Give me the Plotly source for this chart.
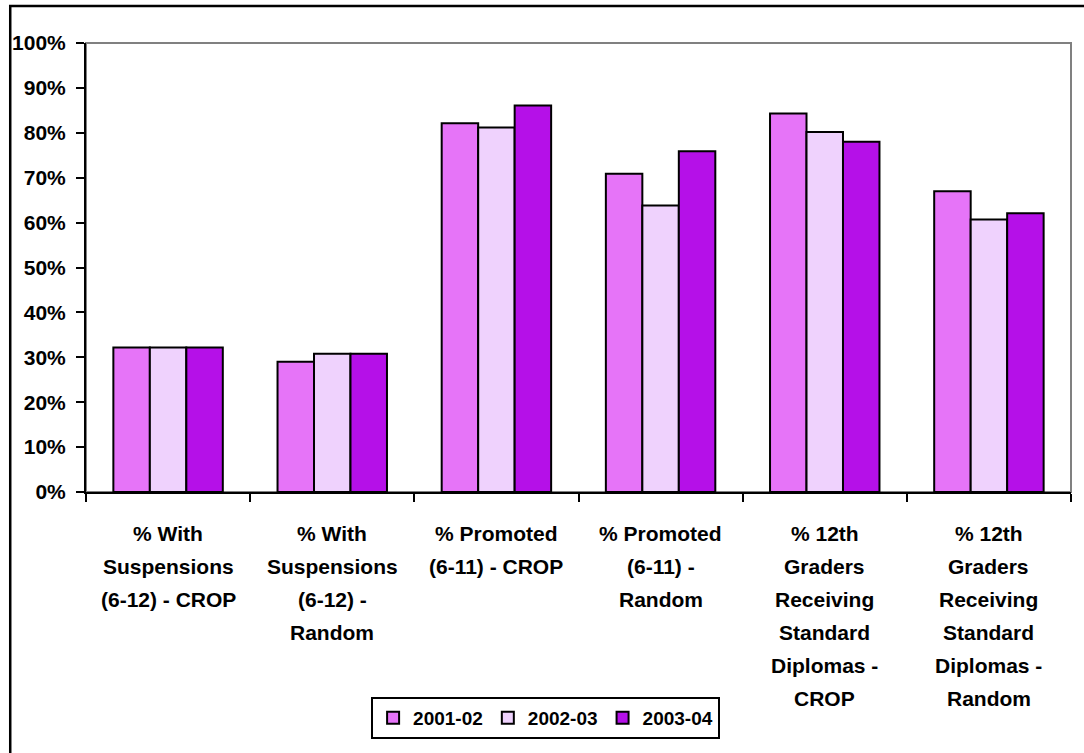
import plotly.graph_objects as go

# Outcome categories (x axis) and the lines each label wraps onto
categories = [
    "% With Suspensions (6-12) - CROP",
    "% With Suspensions (6-12) - Random",
    "% Promoted (6-11) - CROP",
    "% Promoted (6-11) - Random",
    "% 12th Graders Receiving Standard Diplomas - CROP",
    "% 12th Graders Receiving Standard Diplomas - Random",
]
label_lines = [
    ["% With", "Suspensions", "(6-12) - CROP"],
    ["% With", "Suspensions", "(6-12) -", "Random"],
    ["% Promoted", "(6-11) - CROP"],
    ["% Promoted", "(6-11) -", "Random"],
    ["% 12th", "Graders", "Receiving", "Standard", "Diplomas -", "CROP"],
    ["% 12th", "Graders", "Receiving", "Standard", "Diplomas -", "Random"],
]

# School-year series, percent values
years = ["2001-02", "2002-03", "2003-04"]
pct_2001_02 = [32.2, 29.0, 82.1, 70.9, 84.3, 67.0]
pct_2002_03 = [32.2, 30.8, 81.2, 63.8, 80.2, 60.7]
pct_2003_04 = [32.2, 30.8, 86.1, 75.9, 78.0, 62.1]
series_values = [pct_2001_02, pct_2002_03, pct_2003_04]
series_colors = ["#E674F8", "#EFD2FD", "#B510E8"]

y_ticks = list(range(0, 101, 10))

FONT = "Arial, Liberation Sans, sans-serif"
W, H = 1084, 753
M_L, M_R, M_T, M_B = 83, 13, 43, 261
PLOT_H = H - M_T - M_B


def paper_y(px):
    """Convert a page pixel row into paper y coordinate."""
    return (H - M_B - px) / PLOT_H


def paper_x(px):
    return (px - M_L) / (W - M_L - M_R)


fig = go.Figure()
for name, vals, col in zip(years, series_values, series_colors):
    fig.add_trace(go.Bar(
        x=categories, y=vals, name=name,
        marker=dict(color=col, line=dict(color="black", width=2)),
    ))

# multi-line category labels with wide line spacing
annotations = []
first_line_px = 533
line_step = 33.1
for cat, lines in zip(categories, label_lines):
    for j, txt in enumerate(lines):
        annotations.append(dict(
            x=cat, xref="x", y=paper_y(first_line_px + j * line_step), yref="paper",
            text=f"<b>{txt}</b>", showarrow=False, xanchor="center", yanchor="middle",
            font=dict(family=FONT, size=21, color="black"),
        ))

shapes = [
    # grey plot-area border (top and right remain visible)
    dict(type="rect", xref="x domain", yref="y domain", x0=0, x1=1, y0=0, y1=1,
         line=dict(color="#808080", width=2), layer="below"),
    # outer chart frame
    dict(type="rect", xref="paper", yref="paper",
         x0=paper_x(7), x1=paper_x(1100), y0=paper_y(770), y1=paper_y(6),
         line=dict(color="black", width=2.5)),
]

fig.update_layout(
    width=W, height=H,
    margin=dict(l=M_L, r=M_R, t=M_T, b=M_B),
    paper_bgcolor="white", plot_bgcolor="white",
    barmode="group", bargap=1 / 3, bargroupgap=0,
    font=dict(family=FONT, color="black"),
    showlegend=True,
    legend=dict(
        orientation="h", x=paper_x(544), xanchor="center",
        y=paper_y(697), yanchor="top",
        bordercolor="black", borderwidth=2,
        font=dict(family=FONT, size=19, color="black", weight="bold"),
        itemwidth=30, tracegroupgap=0,
    ),
    annotations=annotations,
    shapes=shapes,
)

fig.update_xaxes(
    type="category", showticklabels=False,
    showline=True, linecolor="black", linewidth=2,
    ticks="outside", tickson="boundaries", ticklen=8, tickwidth=2, tickcolor="black",
    showgrid=False,
)
fig.update_yaxes(
    range=[0, 100], tickvals=y_ticks, ticktext=[f"<b>{v}%</b>" for v in y_ticks],
    showline=True, linecolor="black", linewidth=2,
    ticks="outside", ticklen=8, tickwidth=2, tickcolor="black",
    showgrid=False, zeroline=False,
    tickfont=dict(family=FONT, size=21, color="black"),
    ticklabelstandoff=6,
)

fig.write_html("out.html")
